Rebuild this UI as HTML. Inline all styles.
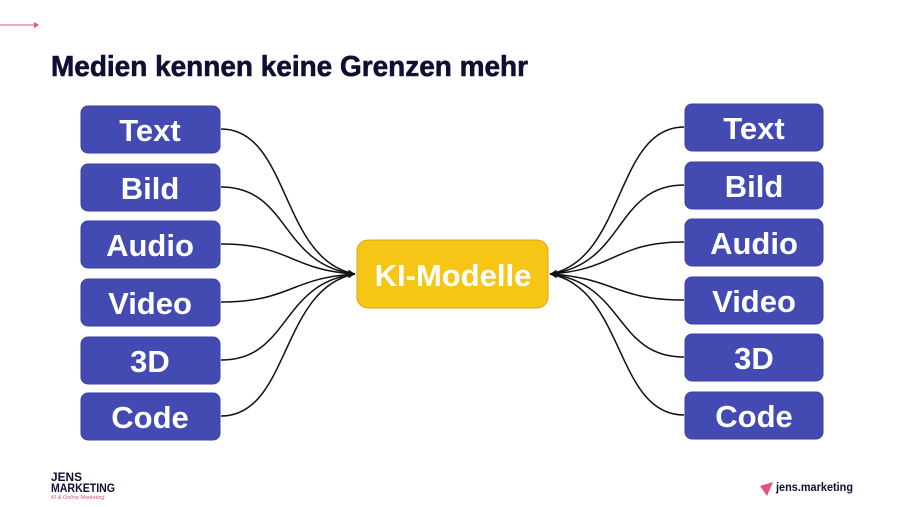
<!DOCTYPE html>
<html><head><meta charset="utf-8"><style>
html,body{margin:0;padding:0;background:#fff;width:904px;height:507px;overflow:hidden}
svg{display:block}
.b{fill:#434bb3;stroke:#3a41a0;stroke-width:1}
.t{font-family:"Liberation Sans",sans-serif;font-weight:bold;font-size:31px;fill:#fff;text-anchor:middle}
.c{fill:none;stroke:#111;stroke-width:1.5}
</style></head><body>
<svg width="904" height="507" viewBox="0 0 904 507">
<defs><marker id="a" markerWidth="8" markerHeight="8" refX="7" refY="4" orient="auto" markerUnits="userSpaceOnUse"><path d="M0,1 L7,4 L0,7 z" fill="#111"/></marker></defs>
<line x1="0" y1="25" x2="36" y2="25" stroke="#e0557f" stroke-width="1"/>
<path d="M34,22 L39,25 L34,28z" fill="#e0557f"/>
<text x="51" y="76" font-family="Liberation Sans,sans-serif" font-weight="900" font-size="28.5" fill="#0e1033" stroke="#0e1033" stroke-width="0.6" textLength="477" lengthAdjust="spacingAndGlyphs">Medien kennen keine Grenzen mehr</text>
<g class="c">
<path d="M221,129 C290,129 280,260 355,274" marker-end="url(#a)"/>
<path d="M221,187 C290,187 280,265 355,274" marker-end="url(#a)"/>
<path d="M221,244 C290,244 290,270 355,274" marker-end="url(#a)"/>
<path d="M221,302 C290,302 290,278 355,274" marker-end="url(#a)"/>
<path d="M221,360 C290,360 280,283 355,274" marker-end="url(#a)"/>
<path d="M221,416 C290,416 280,288 355,274" marker-end="url(#a)"/>
<path d="M684,127 C615,127 625,260 550,274" marker-end="url(#a)"/>
<path d="M684,185 C615,185 625,265 550,274" marker-end="url(#a)"/>
<path d="M684,242 C615,242 615,270 550,274" marker-end="url(#a)"/>
<path d="M684,300 C615,300 615,278 550,274" marker-end="url(#a)"/>
<path d="M684,357 C615,357 625,283 550,274" marker-end="url(#a)"/>
<path d="M684,415 C615,415 625,288 550,274" marker-end="url(#a)"/>
</g>
<g>
<rect class="b" x="81" y="106" width="139" height="47" rx="7"/><text class="t" x="150" y="141">Text</text>
<rect class="b" x="81" y="164" width="139" height="47" rx="7"/><text class="t" x="150" y="199">Bild</text>
<rect class="b" x="81" y="221" width="139" height="47" rx="7"/><text class="t" x="150" y="256">Audio</text>
<rect class="b" x="81" y="279" width="139" height="47" rx="7"/><text class="t" x="150" y="314">Video</text>
<rect class="b" x="81" y="337" width="139" height="47" rx="7"/><text class="t" x="150" y="372">3D</text>
<rect class="b" x="81" y="393" width="139" height="47" rx="7"/><text class="t" x="150" y="428">Code</text>
<rect class="b" x="685" y="104" width="138" height="47" rx="7"/><text class="t" x="754" y="139">Text</text>
<rect class="b" x="685" y="162" width="138" height="47" rx="7"/><text class="t" x="754" y="197">Bild</text>
<rect class="b" x="685" y="219" width="138" height="47" rx="7"/><text class="t" x="754" y="254">Audio</text>
<rect class="b" x="685" y="277" width="138" height="47" rx="7"/><text class="t" x="754" y="312">Video</text>
<rect class="b" x="685" y="334" width="138" height="47" rx="7"/><text class="t" x="754" y="369">3D</text>
<rect class="b" x="685" y="392" width="138" height="47" rx="7"/><text class="t" x="754" y="427">Code</text>
</g>
<rect x="357" y="240" width="191" height="68" rx="11" fill="#f6c515" stroke="#d9a80c"/>
<text class="t" x="453" y="286" font-size="31">KI-Modelle</text>
<g font-family="Liberation Sans,sans-serif" font-weight="bold">
<text x="51" y="481" font-size="12" fill="#0e1033" textLength="31" lengthAdjust="spacingAndGlyphs">JENS</text>
<text x="51" y="492" font-size="12" fill="#0e1033" textLength="64" lengthAdjust="spacingAndGlyphs">MARKETING</text>
<text x="51" y="499" font-size="5.5" fill="#e0557f" font-weight="normal" font-style="italic">KI &amp; Online Marketing</text>
<path d="M760,486 L773,482 L767,496z" fill="#e0557f"/>
<text x="776" y="491" font-size="11.5" fill="#0e1033" textLength="77" lengthAdjust="spacingAndGlyphs">jens.marketing</text>
</g>
</svg>
</body></html>
